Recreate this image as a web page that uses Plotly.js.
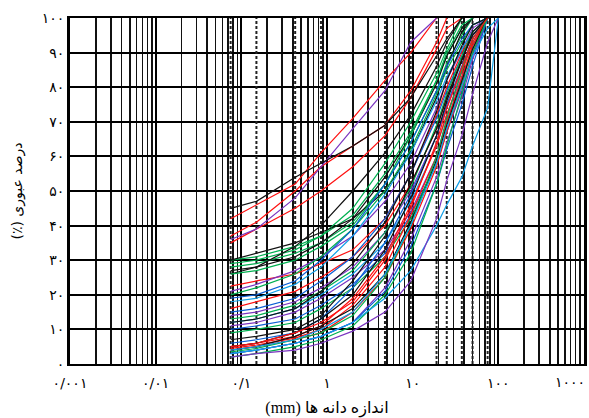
<!DOCTYPE html>
<html>
<head>
<meta charset="utf-8">
<script src="https://cdn.plot.ly/plotly-3.0.1.min.js"></script>
<style>html,body{margin:0;padding:0;background:#fff;}#chart{width:589px;height:418px;}</style>
</head>
<body>
<div id="chart"></div>
<script>
// Sieve sizes (mm) where the grading curves are sampled
const sieves = [0.075, 0.15, 0.425, 0.85, 2, 4.75, 9.5, 19, 25, 37.5, 50, 75, 100];
// Sieve sizes drawn as dotted reference lines
const dottedSieves = [0.075, 0.15, 0.425, 0.85, 4.75, 9.5, 19, 25, 37.5, 50, 75];

// Axis ticks
const xTickVals = [0.001, 0.01, 0.1, 1, 10, 100, 1000];
const xTickText = ["۰/۰۰۱", "۰/۰۱", "۰/۱", "۱", "۱۰", "۱۰۰", "۱۰۰۰"];
const yTickVals = [0, 10, 20, 30, 40, 50, 60, 70, 80, 90, 100];
const yTickText = ["۰", "۱۰", "۲۰", "۳۰", "۴۰", "۵۰", "۶۰", "۷۰", "۸۰", "۹۰", "۱۰۰"];

// Percent passing for each sample
const u1 = [42, 46, 52, 61, 71, 82, 90, 100];
const u2 = [37, 41, 50, 57, 63, 69, 79, 93, 100];
const u3 = [35, 39, 45, 50, 57, 66, 77, 91, 97, 100];
const u4 = [36, 39, 48, 57, 68, 79, 93, 100];
const u5 = [45, 47, 54, 58, 63, 69, 77, 89, 94, 100];

const g1 = [30, 31, 34, 37, 43, 55, 67, 82, 89, 97, 100];
const g2 = [29, 30, 33, 37, 45, 58, 70, 84, 91, 100];
const g3 = [28, 29, 32, 35, 41, 52, 64, 79, 87, 95, 100];
const g4 = [27, 28, 31, 35, 42, 54, 66, 81, 89, 97, 100];
const g5 = [30, 32, 35, 38, 42, 50, 61, 77, 86, 96, 100];
const g6 = [26, 28, 34, 40, 50, 61, 72, 86, 93, 100];
const g7 = [26, 27, 30, 34, 40, 52, 66, 82, 90, 98, 100];

const m1 = [22.5, 24, 26, 29, 33, 42, 55, 72, 80, 90, 96, 100];
const m2 = [21, 23, 27, 31, 37, 47, 58, 74, 82, 91, 97, 100];
const m3 = [20, 22, 26, 31, 39, 50, 62, 78, 85, 93, 98, 100];
const m4 = [19, 20, 24, 30, 39, 52, 64, 79, 86, 94, 98, 100];
const m5 = [18, 19, 23, 28, 37, 49, 61, 76, 83, 91, 96, 100];
const m6 = [16, 18, 21, 25, 31, 40, 52, 68, 77, 88, 95, 100];
const m7 = [15, 16, 19, 24, 31, 42, 55, 71, 79, 89, 95, 100];
const m8 = [14, 15, 18, 22, 28, 38, 50, 66, 74, 85, 93, 100];
const m9 = [13, 14, 17, 21, 27, 38, 51, 69, 78, 89, 96, 100];
const m10 = [12, 13, 16, 20, 26, 35, 47, 63, 72, 83, 91, 100];
const m11 = [11, 12, 15, 19, 25, 33, 44, 60, 70, 82, 91, 100];
const m12 = [10, 11, 13, 17, 23, 32, 43, 58, 67, 79, 89, 100];
const m13 = [9, 10, 12, 16, 22, 31, 42, 58, 68, 81, 92, 100];
const m14 = [12, 13, 16, 21, 29, 41, 55, 73, 82, 92, 98, 100];

const l1 = [7, 8, 10, 14, 24, 37, 52, 68, 77, 88, 95, 100];
const l2 = [6, 7, 9, 13, 22, 35, 49, 66, 75, 86, 94, 100];
const l3 = [5, 6, 8, 11, 19, 31, 46, 63, 72, 84, 93, 100];
const l4 = [4.5, 5.5, 7.5, 10, 17, 28, 43, 60, 70, 83, 92, 100];
const l5 = [4, 5, 7, 9, 15, 25, 39, 57, 67, 80, 90, 100];
const l6 = [4, 5, 8, 11, 16, 26, 41, 59, 69, 82, 91, 100];
const l7 = [3.5, 4.5, 7, 9, 14, 25, 40, 60, 71, 85, 94, 100];
const l8 = [3, 4, 6, 8, 12, 22, 36, 54, 64, 77, 88, 100];
const l9 = [3, 4, 6, 8, 12, 21, 34, 52, 62, 75, 86, 100];
const l10 = [2, 3, 5, 7, 11, 20, 32, 52, 63, 78, 90, 100];
const l11 = [3, 4, 6, 8, 12, 19, 27, 40, 46, 54, 63, 74, 100];
const l12 = [2, 3, 4, 6, 9.5, 15, 24, 42, 53, 66, 78, 93, 100];
const l13 = [5, 6, 9, 13, 20, 33, 48, 66, 76, 88, 96, 100];
const l14 = [5, 6, 9, 12, 18, 30, 45, 64, 74, 86, 94, 100];
const l15 = [4, 5, 7, 10, 15, 26, 40, 58, 68, 80, 89, 97, 100];

const RED = "#ff1010", BLACK = "#111111", GREEN = "#00b050", PURPLE = "#7b35c0", BLUE = "#0b5fd6", LBLUE = "#12a0e8";

const samples = [
  [u1, RED], [u2, RED], [u3, RED], [u4, PURPLE], [u5, BLACK],
  [g1, GREEN], [g2, GREEN], [g3, GREEN], [g4, BLACK], [g5, BLACK], [g6, BLACK], [g7, GREEN],
  [m1, RED], [m2, PURPLE], [m3, GREEN], [m4, BLUE], [m5, LBLUE], [m6, RED], [m7, BLUE],
  [m8, PURPLE], [m9, GREEN], [m10, LBLUE], [m11, PURPLE], [m12, BLUE], [m13, GREEN], [m14, BLACK],
  [l1, BLACK], [l2, BLUE], [l3, RED], [l4, RED], [l5, RED], [l6, BLACK], [l7, GREEN],
  [l8, PURPLE], [l9, BLUE], [l10, GREEN], [l11, LBLUE], [l12, PURPLE], [l13, BLACK], [l14, RED], [l15, LBLUE]
];

const traces = [];
dottedSieves.forEach(s => {
  traces.push({
    x: [s, s], y: [0, 100], mode: "lines", type: "scatter",
    line: {color: "#222", width: 2, dash: "3px,2px"},
    hoverinfo: "skip", showlegend: false
  });
});
samples.forEach(([vals, col]) => {
  traces.push({
    x: sieves.slice(0, vals.length), y: vals, mode: "lines", type: "scatter",
    line: {color: col, width: 1.2}, showlegend: false
  });
});
// empty trace so that the helper axis x2 is drawn
traces.push({x: [xTickVals[6]], y: [null], xaxis: "x2", yaxis: "y", mode: "lines", type: "scatter", showlegend: false, hoverinfo: "skip"});

const minorVals = [];
for (let e = -3; e < 3; e++) {
  for (let k = 2; k <= 9; k++) minorVals.push(k * Math.pow(10, e));
}

const layout = {
  width: 589, height: 418,
  margin: {l: 70, r: 5, t: 18, b: 54},
  paper_bgcolor: "#fff", plot_bgcolor: "#fff",
  showlegend: false,
  font: {family: "DejaVu Sans, sans-serif", color: "#000"},
  xaxis: {
    type: "log", range: [-3, 3],
    tickmode: "array", tickvals: xTickVals.slice(0, 6), ticktext: xTickText.slice(0, 6),
    tickfont: {size: 14, family: "DejaVu Sans"},
    ticklabelstandoff: 5,
    showgrid: true, gridcolor: "#000", gridwidth: 2,
    minor: {tickmode: "array", tickvals: minorVals, showgrid: true, gridcolor: "#111", gridwidth: 1.5, ticks: ""},
    showline: true, linecolor: "#000", linewidth: 2, mirror: true,
    ticks: "", zeroline: false,
    title: {text: "(mm) اندازه دانه ها", font: {size: 16, family: "Liberation Serif, DejaVu Sans"}, standoff: 14}
  },
  // helper x axis that only carries the last (1000) label, nudged inside the figure edge
  xaxis2: {
    type: "log", range: [-3, 3.001], overlaying: "x", anchor: "y", side: "bottom",
    tickmode: "array", tickvals: xTickVals.slice(6), ticktext: xTickText.slice(6),
    tickfont: {size: 14, family: "DejaVu Sans"},
    ticklabelstandoff: 8, ticklabelshift: -14, ticklabeloverflow: "allow",
    showgrid: false, showline: false, ticks: "", zeroline: false
  },
  yaxis: {
    range: [0, 100],
    tickmode: "array", tickvals: yTickVals, ticktext: yTickText,
    tickfont: {size: 14, family: "DejaVu Sans"},
    showgrid: true, gridcolor: "#000", gridwidth: 2,
    showline: true, linecolor: "#000", linewidth: 3, mirror: true,
    ticks: "", zeroline: false,
    title: {text: "(٪) درصد عبوری", font: {size: 14, family: "DejaVu Sans"}, standoff: 16}
  }
};

Plotly.newPlot("chart", traces, layout, {staticPlot: true, displayModeBar: false});
</script>
</body>
</html>
